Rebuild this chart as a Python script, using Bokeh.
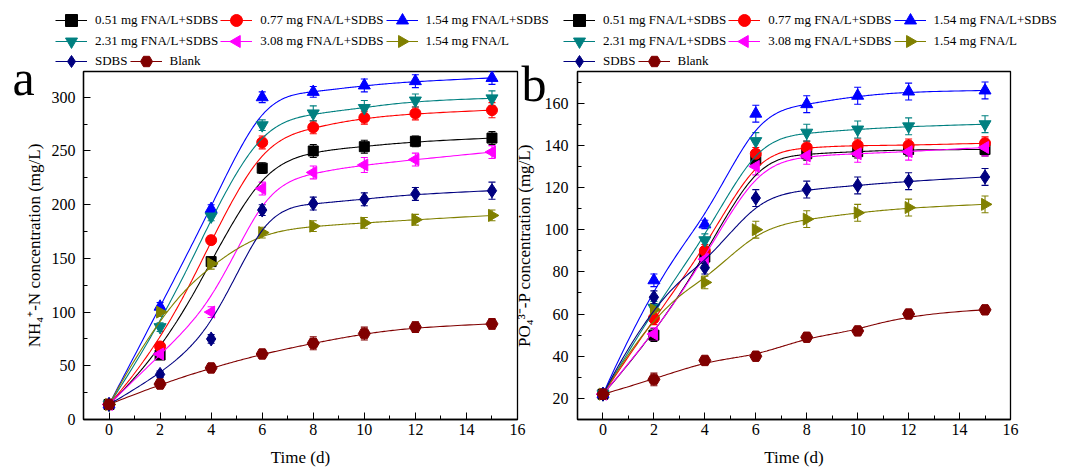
import numpy as np
from bokeh.plotting import figure
from bokeh.models import (ColumnDataSource, Whisker, TeeHead, Legend, LegendItem, Label,
                          SingleIntervalTicker, Range1d)
from bokeh.layouts import row, column
from bokeh.embed import file_html
from bokeh.resources import INLINE

# ---------------- data ----------------
days = [0, 2, 4, 6, 8, 10, 12, 15]
names = ["0.51 mg FNA/L+SDBS", "0.77 mg FNA/L+SDBS", "1.54 mg FNA/L+SDBS",
         "2.31 mg FNA/L+SDBS", "3.08 mg FNA/L+SDBS", "1.54 mg FNA/L", "SDBS", "Blank"]

# panel a: NH4+-N (mg/L)
nh4_051 = [14, 60, 147, 234, 250, 254, 259, 262]
nh4_077 = [14, 68, 167, 258, 272, 281, 285, 288]
nh4_154s = [14, 105, 196, 300, 305, 311, 315, 318]
nh4_231 = [14, 86, 189, 274, 285, 290, 297, 299]
nh4_308 = [14, 61, 100, 215, 230, 237, 242, 249]
nh4_154 = [14, 100, 145, 174, 180, 183, 186, 190]
nh4_sdbs = [14, 42, 75, 195, 201, 205, 210, 213]
nh4_blank = [14, 33, 48, 61, 71, 80, 86, 89]

nh4_err_051 = [2, 3, 4, 5, 6, 6, 5, 6]
nh4_err_077 = [2, 4, 4, 6, 6, 6, 6, 7]
nh4_err_154s = [2, 4, 4, 5, 5, 6, 6, 6]
nh4_err_231 = [2, 4, 4, 5, 7, 7, 6, 7]
nh4_err_308 = [2, 4, 5, 6, 6, 7, 6, 6]
nh4_err_154 = [2, 4, 5, 5, 5, 5, 5, 5]
nh4_err_sdbs = [2, 3, 4, 5, 6, 6, 6, 8]
nh4_err_blank = [2, 3, 4, 4, 6, 6, 5, 5]

# panel b: PO4 3- -P (mg/L)
po4_051 = [22, 50, 87, 133, 136, 137, 138, 138]
po4_077 = [22, 58, 90, 136, 139, 140, 140, 141]
po4_154s = [22, 76, 102.5, 155, 159.5, 163.5, 165.5, 166]
po4_231 = [22, 63, 95, 142, 146, 147.5, 149, 150]
po4_308 = [22, 50.5, 86, 130, 135, 136, 137, 139]
po4_154 = [22, 62, 75, 100, 105, 108, 110.5, 112]
po4_sdbs = [22, 68, 82, 115, 119, 121, 123, 125]
po4_blank = [22, 29, 38, 40, 49, 52, 60, 62]

po4_err_051 = [1.5, 3, 3, 3, 3, 3, 3, 3]
po4_err_077 = [1.5, 3, 3, 3, 3, 3, 3, 3]
po4_err_154s = [1.5, 3, 2, 4, 4, 4, 4, 4]
po4_err_231 = [1.5, 3, 3, 4, 4, 4, 4, 4]
po4_err_308 = [1.5, 3, 3, 4, 4, 4, 4, 4]
po4_err_154 = [1.5, 3, 3, 4, 4, 4, 4, 4]
po4_err_sdbs = [1.5, 3, 3, 4, 4, 4, 4, 4]
po4_err_blank = [1.5, 3, 2, 2, 2, 2, 2, 2]

nh4_series = [nh4_051, nh4_077, nh4_154s, nh4_231, nh4_308, nh4_154, nh4_sdbs, nh4_blank]
nh4_errors = [nh4_err_051, nh4_err_077, nh4_err_154s, nh4_err_231, nh4_err_308,
              nh4_err_154, nh4_err_sdbs, nh4_err_blank]
po4_series = [po4_051, po4_077, po4_154s, po4_231, po4_308, po4_154, po4_sdbs, po4_blank]
po4_errors = [po4_err_051, po4_err_077, po4_err_154s, po4_err_231, po4_err_308,
              po4_err_154, po4_err_sdbs, po4_err_blank]

# ---------------- style ----------------
colors = ["#000000", "#FF0000", "#0000FF", "#008080", "#FF00FF", "#808000", "#000080", "#800000"]
markers = ["square", "circle", "triangle", "inverted_triangle", "triangle", "triangle",
           "diamond", "hex"]
angles = [0, 0, 0, 0, np.pi / 2, -np.pi / 2, 0, 0]
sizes = [10, 11, 12, 12, 12, 12, 14, 12]
FONT = "Liberation Serif"


def bspline(xs, ys, n=240, k=3):
    """Clamped cubic B-spline connection (Origin-style 'B-Spline' line)."""
    P = np.column_stack([xs, ys]).astype(float)
    m = len(P)
    knots = np.concatenate([np.zeros(k), np.arange(0, m - k + 1), np.full(k, m - k)]).astype(float)
    ts = np.linspace(0, m - k, n)
    out = []
    for t in ts:
        i = int(np.searchsorted(knots, t, side="right") - 1)
        i = min(i, m - 1)
        d = [P[j + i - k].copy() for j in range(k + 1)]
        for r in range(1, k + 1):
            for j in range(k, r - 1, -1):
                den = knots[j + 1 + i - r] - knots[j + i - k]
                a = 0.0 if den == 0 else (t - knots[j + i - k]) / den
                d[j] = (1 - a) * d[j - 1] + a * d[j]
        out.append(d[k])
    out = np.array(out)
    return out[:, 0], out[:, 1]


def style_axes(p, y_interval):
    p.xgrid.visible = False
    p.ygrid.visible = False
    p.outline_line_color = "black"
    p.outline_line_width = 1.3
    p.xaxis.ticker = SingleIntervalTicker(interval=2, num_minor_ticks=2)
    p.yaxis.ticker = SingleIntervalTicker(interval=y_interval, num_minor_ticks=2)
    for ax in (p.xaxis[0], p.yaxis[0]):
        ax.axis_line_color = "black"
        ax.axis_line_width = 1.3
        ax.major_tick_in = 7
        ax.major_tick_out = 0
        ax.minor_tick_in = 4
        ax.minor_tick_out = 0
        ax.major_tick_line_color = "black"
        ax.minor_tick_line_color = "black"
        ax.major_label_text_font = FONT
        ax.major_label_text_font_size = "16px"
        ax.major_label_text_color = "black"
        ax.axis_label_text_font = FONT
        ax.axis_label_text_font_size = "17px"
        ax.axis_label_text_font_style = "normal"
        ax.axis_label_text_color = "black"
    p.xaxis.major_label_standoff = 4
    p.xaxis.axis_label_standoff = 10


def build(p, series, errors):
    for vals, errs, c, mk, ang, sz in zip(series, errors, colors, markers, angles, sizes):
        bx, by = bspline(days, vals)
        p.line(bx, by, line_color=c, line_width=1.1)
        lo = [v - e for v, e in zip(vals, errs)]
        hi = [v + e for v, e in zip(vals, errs)]
        src = ColumnDataSource(dict(x=days, y=vals, lower=lo, upper=hi))
        w = Whisker(source=src, base="x", upper="upper", lower="lower", line_color=c,
                    line_width=1.1,
                    upper_head=TeeHead(size=7, line_color=c, line_width=1.1),
                    lower_head=TeeHead(size=7, line_color=c, line_width=1.1))
        p.add_layout(w)
        p.scatter("x", "y", source=src, marker=mk, angle=ang, size=sz,
                  fill_color=c, line_color=c)


# ---------------- panel a ----------------
pa = figure(width=555, height=469, x_range=Range1d(-1, 16), y_range=Range1d(0, 324),
            output_backend="svg", toolbar_location=None,
            min_border_left=83, min_border_right=38, min_border_top=71, min_border_bottom=50)
style_axes(pa, 50)
pa.xaxis.axis_label = "Time (d)"
pa.yaxis.axis_label = "NH\u2084\u207a-N concentration (mg/L)"
pa.yaxis.major_label_standoff = 8
pa.yaxis.axis_label_standoff = 5
build(pa, nh4_series, nh4_errors)

# ---------------- panel b ----------------
pb = figure(width=520, height=469, x_range=Range1d(-1, 16), y_range=Range1d(10, 175),
            output_backend="svg", toolbar_location=None,
            min_border_left=67, min_border_right=20, min_border_top=71, min_border_bottom=50)
style_axes(pb, 20)
pb.xaxis.axis_label = "Time (d)"
pb.yaxis.axis_label = "PO\u2084\u00b3\u207b-P concentration (mg/L)"
pb.yaxis.major_label_standoff = 9
pb.yaxis.axis_label_standoff = 8
pb.border_fill_color = None
build(pb, po4_series, po4_errors)
pb.margin = (0, 0, 0, -45)

# ---------------- header layer: legends and panel letters ----------------
HW, HH = 1065, 150
hd = figure(width=HW, height=HH, x_range=Range1d(0, HW), y_range=Range1d(0, HH),
            x_axis_type=None, y_axis_type=None, output_backend="svg",
            toolbar_location=None, min_border=0)
hd.background_fill_color = None
hd.border_fill_color = None
hd.outline_line_color = None
hd.margin = (-469, 0, 0, 0)
# legend keys: the panel-a series drawn on a range that lies outside this layer's view
hd.extra_x_ranges = {"off": Range1d(1000, 1001)}
hd.extra_y_ranges = {"off": Range1d(1000, 1001)}

key_lines, key_marks = [], []
for vals, c, mk, ang in zip(nh4_series, colors, markers, angles):
    key_lines.append(hd.line(x=days, y=vals, line_color=c, line_width=1.1,
                             x_range_name="off", y_range_name="off"))
    key_marks.append(hd.scatter(x=days, y=vals, marker=mk, angle=ang, size=12,
                                fill_color=c, line_color=c,
                                x_range_name="off", y_range_name="off"))

# Times / Liberation Serif advance widths (per 1000 em) for the legend labels
TNR = {"0": 500, "1": 500, "2": 500, "3": 500, "4": 500, "5": 500, "7": 500, "8": 500,
       ".": 250, " ": 250, "m": 778, "g": 500, "F": 556, "N": 722, "A": 722, "/": 278,
       "L": 611, "+": 564, "S": 556, "D": 722, "B": 667}
LEG_FS, GW, GH, STAND, SPACE = 13, 32, 30, 8, 2


def text_w(s):
    return sum(TNR.get(ch, 500) for ch in s) * LEG_FS / 1000.0


rows_idx = [[0, 1, 2], [3, 4, 5], [6, 7]]
row_center = [20, 41, 61]          # legend row centres, px from the top
rotated = {4, 5}                    # left/right triangles: legend keys ignore angle
fix_x, fix_y, fix_c, fix_a = [], [], [], []
for x0 in (55, 563):
    for idxs, yc in zip(rows_idx, row_center):
        items = []
        cx = x0
        for i in idxs:
            rs = [key_lines[i]] if i in rotated else [key_lines[i], key_marks[i]]
            items.append(LegendItem(label=names[i], renderers=rs))
            if i in rotated:
                fix_x.append(cx + GW / 2)
                fix_y.append(HH - yc)
                fix_c.append(colors[i])
                fix_a.append(angles[i])
            cx += GW + STAND + text_w(names[i]) + SPACE
        leg = Legend(items=items, orientation="horizontal", location=(x0, HH - yc - GH / 2),
                     padding=0, margin=0, spacing=SPACE, glyph_width=GW, glyph_height=GH,
                     label_standoff=STAND, label_text_font=FONT,
                     label_text_font_size=f"{LEG_FS}px", label_text_color="black",
                     border_line_alpha=0, background_fill_alpha=0)
        hd.add_layout(leg, "center")

hd.scatter(x=fix_x, y=fix_y, marker="triangle", angle=fix_a, size=12,
           fill_color=fix_c, line_color=fix_c)

hd.add_layout(Label(x=12, y=HH - 77, text="a", text_font=FONT, text_font_size="50px",
                    text_color="black", text_align="left", text_baseline="alphabetic"))
hd.add_layout(Label(x=521, y=HH - 83, text="b", text_font=FONT, text_font_size="50px",
                    text_color="black", text_align="left", text_baseline="alphabetic"))

layout = column(row(pa, pb), hd)
open("out.html", "w").write(file_html(layout, INLINE))
